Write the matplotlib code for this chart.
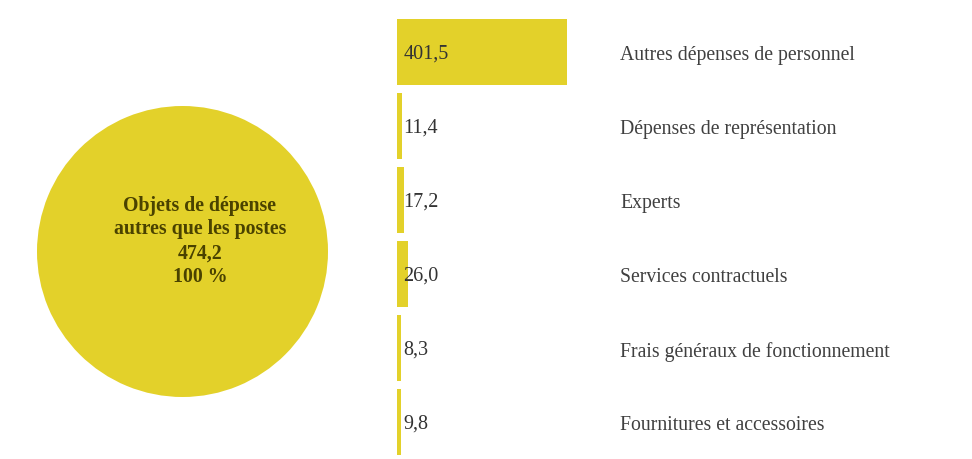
import matplotlib.pyplot as plt

# data
categories = [
    "Autres dépenses de personnel",
    "Dépenses de représentation",
    "Experts",
    "Services contractuels",
    "Frais généraux de fonctionnement",
    "Fournitures et accessoires",
]
values = [401.5, 11.4, 17.2, 26.0, 8.3, 9.8]
value_labels = ["401,5", "11,4", "17,2", "26,0", "8,3", "9,8"]
total = 474.2
total_label = "474,2"
center_title = "Objets de dépense\nautres que les postes"

yellow = "#E3D12A"
plt.rcParams["font.family"] = ["Liberation Serif", "DejaVu Serif"]

fig = plt.figure(figsize=(9.72, 4.59), dpi=100)

# circle on the left (single-slice pie)
ax_c = fig.add_axes([37 / 972, (459 - 397) / 459, 291 / 972, 291 / 459])
ax_c.pie([total], colors=[yellow], radius=1, startangle=90,
         wedgeprops=dict(linewidth=0))
ax_c.set_xlim(-1, 1)
ax_c.set_ylim(-1, 1)
ax_c.set_aspect("equal")
ax_c.text(0.12, 0.07, center_title + "\n" + total_label + "\n100 %",
          ha="center", va="center", fontsize=14.3, fontweight="bold",
          color="#4A4200", linespacing=1.25)
ax_c.axis("off")

# bars on the right
ax = fig.add_axes([397 / 972, 0, 575 / 972, 444 / 459])
ypos = list(range(len(values)))
ax.barh(ypos, values, height=0.9, color=yellow, align="center")
ax.set_xlim(0, 575 / (170 / 401.5))
ax.set_ylim(len(values) - 0.5, -0.5)

for y, lab, cat in zip(ypos, value_labels, categories):
    ax.text(0.011, y + 0.03, lab, transform=ax.get_yaxis_transform(),
            ha="left", va="center", fontsize=14.5, color="#333333")
    ax.text(0.388, y + 0.05, cat, transform=ax.get_yaxis_transform(),
            ha="left", va="center", fontsize=14.2, color="#404040")

ax.axis("off")

fig.savefig("out.png", dpi=100)
